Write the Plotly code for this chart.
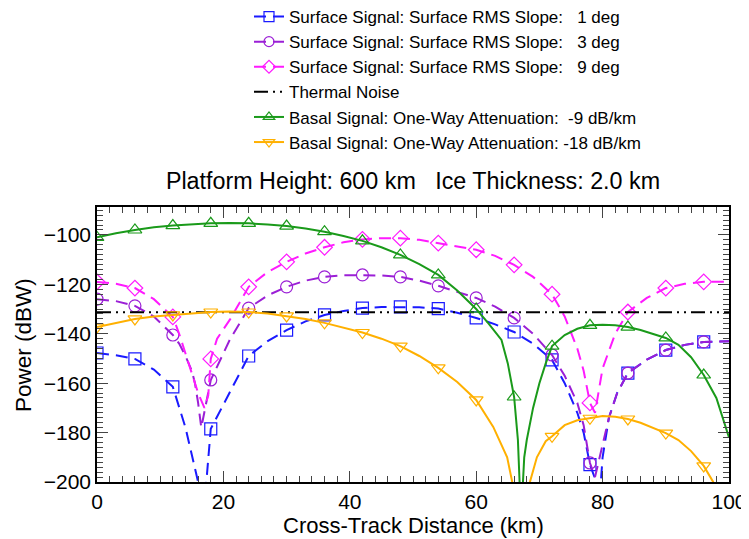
import plotly.graph_objects as go

# ---------------- data ----------------
marker_x = [0, 6, 12, 18, 24, 30, 36, 42, 48, 54, 60, 66, 72, 78, 84, 90, 96]

# Surface RMS slope 1 deg
s1_line_x = [0, 3, 6, 9, 12, 13, 14, 15, 16, 16.6, 17.3, 18, 21, 24, 27, 30, 33, 36, 39, 42, 45, 48, 51, 54,
             57, 60, 63, 66, 69, 72, 74, 76, 77, 78, 79, 79.3, 79.7, 80, 81, 82.3, 84, 87, 90, 93, 96, 100]
s1_line_y = [-147.8, -148.7, -150.2, -154.5, -161.5, -170, -178, -189, -200, -215, -200, -178.5, -163.5, -149,
             -143, -138.5, -135, -132.4, -130.8, -129.6, -129.2, -129.1, -129.3, -129.8, -131.5, -133.6, -136.2,
             -139.3, -144, -150.6, -160, -172, -180, -193, -200, -215, -200, -190, -174, -164, -155.9, -150.5,
             -146.6, -144.5, -143.3, -143]
s1_mark_y = [-147.8, -150.2, -161.5, -178.5, -149, -138.5, -132.4, -129.6, -129.1, -129.8, -133.6, -139.3,
             -150.6, -193, -155.9, -146.6, -143.3]

# Surface RMS slope 3 deg
s3_line_x = [0, 3, 6, 9, 12, 13, 14, 15, 15.5, 16, 16.5, 17, 17.5, 18, 21, 24, 27, 30, 33, 36, 39, 42, 45, 48,
             51, 54, 57, 60, 63, 66, 69, 72, 74, 76, 77, 78, 78.8, 79.5, 80, 81, 82.3, 84, 87, 90, 93, 96, 100]
s3_line_y = [-126, -126.8, -128.7, -133, -140.5, -144, -149, -155, -160, -168, -178, -172, -165, -158.7,
             -142.5, -129.6, -124.5, -121, -118.5, -117, -116.3, -116.2, -116.4, -117, -118.5, -120.6, -123,
             -125.5, -129, -133.6, -140, -148.6, -157, -168, -177, -192.3, -198, -190, -185, -174, -164, -155.9,
             -150.5, -146.6, -144.5, -143.3, -143]
s3_mark_y = [-126, -128.7, -140.5, -158.7, -129.6, -121, -117, -116.2, -117, -120.6, -125.5, -133.6, -148.6,
             -192.3, -155.9, -146.6, -143.3]

# Surface RMS slope 9 deg
s9_line_x = [0, 3, 6, 9, 12, 13, 14, 15, 16, 17, 17.6, 18, 19, 21, 24, 27, 30, 33, 36, 39, 42, 45, 48, 51, 54,
             57, 60, 63, 66, 69, 72, 74, 76, 77, 78, 78.8, 79.5, 80, 82, 84, 87, 90, 93, 96, 100]
s9_line_y = [-119, -119.8, -121.5, -126, -133.2, -140, -148, -156, -164, -170, -165, -150.2, -142, -134.4,
             -121, -115, -110.9, -107.5, -105, -103, -101.8, -101.3, -101.3, -102, -103.3, -104.5, -106, -108.5,
             -112.1, -117, -124, -133, -146, -155, -168, -172, -162, -154, -140, -131.2, -125.5, -121.5, -119.8,
             -119, -119]
s9_mark_y = [-119, -121.5, -133.2, -150.2, -121, -110.9, -105, -101.8, -101.3, -103.3, -106, -112.1, -124,
             -168, -131.2, -121.5, -119]

# Thermal noise
noise_x = [0, 100]
noise_y = [-131.3, -131.3]

# Basal signal -9 dB/km
b9_line_x = [0, 3, 6, 9, 12, 15, 18, 21, 24, 27, 30, 33, 36, 39, 42, 45, 48, 51, 54, 57, 60, 62, 64, 65, 66,
             66.6, 67.1, 67.6, 68, 69, 70, 71, 72, 74, 76, 78, 80, 82, 84, 86, 88, 90, 92, 94, 96, 98, 100]
b9_line_y = [-101, -99.3, -98, -96.9, -96.2, -95.6, -95.3, -95.2, -95.3, -95.8, -96.4, -97.4, -98.7, -100.4,
             -102.4, -105, -108.1, -111.8, -116.2, -122.5, -130, -136, -142.5, -152, -165.6, -183, -215, -190,
             -183, -170, -160, -152, -145, -140.5, -138, -136.6, -136.4, -136.6, -137.3, -138.5, -140, -141.7,
             -144.5, -149.5, -156.7, -166, -182]
b9_mark_y = [-101, -98, -96.2, -95.3, -95.3, -96.4, -98.7, -102.4, -108.1, -116.2, -130, -165.6, -145,
             -136.6, -137.3, -141.7, -156.7]

# Basal signal -18 dB/km
b18_line_x = [0, 3, 6, 9, 12, 15, 18, 21, 24, 27, 30, 33, 36, 39, 42, 45, 48, 51, 54, 57, 60, 62.7, 64.9,
              65.7, 66.5, None, 67.8, 68.5, 69.6, 71, 72, 74, 76, 78, 80, 82, 84, 86, 88, 90, 92, 94, 96, 97.5, 98]
b18_line_y = [-137.3, -135.5, -134, -133, -132.4, -131.6, -131.2, -131, -131.2, -131.8, -132.8, -134, -135.6,
              -137.5, -139.5, -142, -145, -149, -153.8, -159.5, -166.8, -177.7, -190, -200, -212, None, -212,
              -200, -190, -183.5, -181.5, -177, -175, -174.2, -173.3, -173.6, -174.5, -176, -178, -180.2, -183,
              -187.5, -193.5, -200, -205]
b18_mark_y = [-137.3, -134, -132.4, -131.2, -131.2, -132.8, -135.6, -139.5, -145, -153.8, -166.8, None,
              -181.5, -174.2, -174.5, -180.2, -193.5]

# ---------------- styling ----------------
FONT = "Liberation Sans, Arial, Helvetica, sans-serif"
SURF_DASH = "12px,7px"
NOISE_DASH = "14px,5px,2px,5px,2px,5px"
series = [
    ("Surface Signal: Surface RMS Slope:   1 deg", s1_line_x, s1_line_y, s1_mark_y, "#1a1aff", "square-open", SURF_DASH),
    ("Surface Signal: Surface RMS Slope:   3 deg", s3_line_x, s3_line_y, s3_mark_y, "#9b1fd6", "circle-open", SURF_DASH),
    ("Surface Signal: Surface RMS Slope:   9 deg", s9_line_x, s9_line_y, s9_mark_y, "#ff1aff", "diamond-open", SURF_DASH),
    ("Thermal Noise", None, None, None, "#000000", None, NOISE_DASH),
    ("Basal Signal: One-Way Attenuation:  -9 dB/km", b9_line_x, b9_line_y, b9_mark_y, "#1a9a1a", "triangle-up-open", "solid"),
    ("Basal Signal: One-Way Attenuation: -18 dB/km", b18_line_x, b18_line_y, b18_mark_y, "#ffb000", "triangle-down-open", "solid"),
]

fig = go.Figure()
for i, (name, lx, ly, my, col, sym, dash) in enumerate(series):
    grp = "g%d" % i
    if name == "Thermal Noise":
        fig.add_trace(go.Scatter(x=noise_x, y=noise_y, mode="lines", name=name, legendgroup=grp,
                                 line=dict(color=col, width=2, dash=dash)))
        continue
    fig.add_trace(go.Scatter(x=lx, y=ly, mode="lines", showlegend=False, legendgroup=grp,
                             line=dict(color=col, width=2, dash=dash), connectgaps=False, hoverinfo="skip"))
    fig.add_trace(go.Scatter(x=marker_x, y=my, mode="markers", showlegend=False, legendgroup=grp,
                             marker=dict(symbol=sym, size=12, color=col, line=dict(width=1.2, color=col))))
    # legend entry (no data points)
    fig.add_trace(go.Scatter(x=[None], y=[None], mode="lines+markers", name=name, legendgroup=grp,
                             line=dict(color=col, width=2, dash=dash),
                             marker=dict(symbol=sym, size=10, color=col, line=dict(width=1.2, color=col))))

axis_common = dict(showline=True, linecolor="black", linewidth=1.5, mirror="ticks", ticks="inside",
                   ticklen=11, tickwidth=1.2, tickcolor="#444", showgrid=False, zeroline=False,
                   tickfont=dict(family=FONT, size=21, color="black"))

fig.update_xaxes(range=[0, 100], dtick=20, tick0=0,
                 minor=dict(ticks="inside", dtick=2, ticklen=6, tickcolor="#444", tickwidth=1),
                 **axis_common)
fig.update_yaxes(range=[-200, -88.7], dtick=20, tick0=-200,
                 minor=dict(ticks="inside", dtick=2, ticklen=6, tickcolor="#444", tickwidth=1),
                 **axis_common)

# page body has an 8px margin, so the figure is sized to fill the rest of the window
W, H = 741, 531
L, R, T, B = 89, 20, 199, 57
PW, PH = W - L - R, H - T - B

fig.add_annotation(text="Cross-Track Distance (km)", xref="paper", yref="paper",
                   x=(405 - L) / PW, y=(T + PH - 517) / PH, xanchor="center", yanchor="middle",
                   showarrow=False, font=dict(family=FONT, size=22, color="black"))
fig.add_annotation(text="Power (dBW)", xref="paper", yref="paper", textangle=-90,
                   x=(15 - L) / PW, y=(T + PH - 337) / PH, xanchor="center", yanchor="middle",
                   showarrow=False, font=dict(family=FONT, size=22.5, color="black"))

fig.update_layout(
    width=W, height=H,
    margin=dict(l=L, r=R, t=T, b=B, autoexpand=False),
    paper_bgcolor="white", plot_bgcolor="white",
    font=dict(family=FONT, color="black"),
    title=dict(text="Platform Height: 600 km   Ice Thickness: 2.0 km", x=(L + PW / 2) / W, xanchor="center",
               y=1 - 173 / H, yref="container", yanchor="middle",
               font=dict(family=FONT, size=23.3, color="black")),
    legend=dict(x=241 / W, y=(T + PH + 9) / PH, xref="container", yref="paper", xanchor="left", yanchor="top",
                bgcolor="rgba(0,0,0,0)", font=dict(family=FONT, size=17, color="black"),
                tracegroupgap=0, itemwidth=30),
    showlegend=True,
)

fig.write_html("out.html")
